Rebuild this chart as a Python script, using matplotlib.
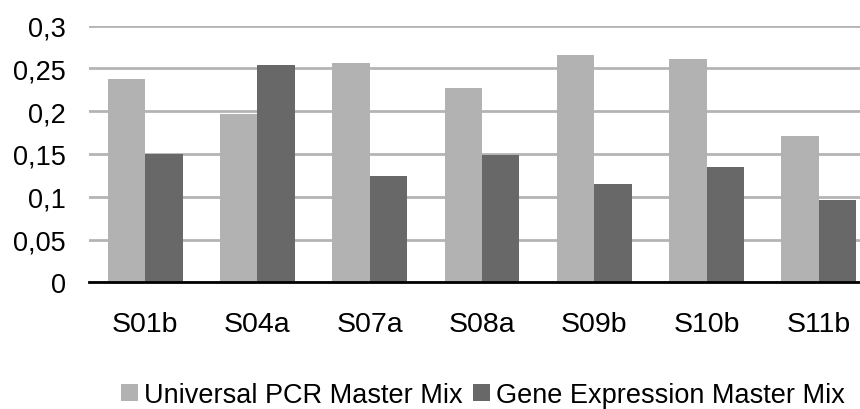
import matplotlib.pyplot as plt
import numpy as np
from matplotlib.ticker import FuncFormatter

plt.rcParams['font.family'] = ['Liberation Sans', 'DejaVu Sans']

samples = ['S01b', 'S04a', 'S07a', 'S08a', 'S09b', 'S10b', 'S11b']
universal_pcr = [0.238, 0.197, 0.256, 0.227, 0.266, 0.261, 0.171]
gene_expression = [0.150, 0.254, 0.124, 0.149, 0.115, 0.135, 0.096]

fig = plt.figure(figsize=(8.6, 4.1), dpi=100)
ax = fig.add_axes([89 / 860, 126.7 / 410, 786 / 860, 256.6 / 410])

x = np.arange(len(samples))
w = 1 / 3
ax.bar(x - w / 2, universal_pcr, w, color='#b2b2b2', label='Universal PCR Master Mix', zorder=3)
ax.bar(x + w / 2, gene_expression, w, color='#686868', label='Gene Expression Master Mix', zorder=3)

ax.set_xlim(-0.5, len(samples) - 0.5)
ax.set_ylim(0, 0.3)
ax.set_yticks(np.arange(0, 0.301, 0.05))
ax.yaxis.set_major_formatter(FuncFormatter(lambda v, p: ('%g' % round(v, 2)).replace('.', ',')))
ax.set_xticks(x)
ax.set_xticklabels(samples)
ax.tick_params(axis='both', length=0, colors='black')
ax.tick_params(axis='y', labelsize=19.5, pad=16.5)
ax.tick_params(axis='x', labelsize=20.5, pad=21)

ax.grid(axis='y', color='#b4b4b4', linewidth=2, zorder=0)
for side in ['top', 'right', 'left']:
    ax.spines[side].set_visible(False)
ax.spines['bottom'].set_linewidth(2)
ax.spines['bottom'].set_color('black')
ax.spines['bottom'].set_zorder(4)

fig.legend(loc='center', bbox_to_anchor=(483 / 860, 1 - 396 / 410), ncol=2, frameon=False,
           fontsize=19.5, handlelength=0.62, handleheight=0.62, handletextpad=0.22,
           columnspacing=0.4, borderpad=0, borderaxespad=0)

fig.savefig('out.png', dpi=100)
